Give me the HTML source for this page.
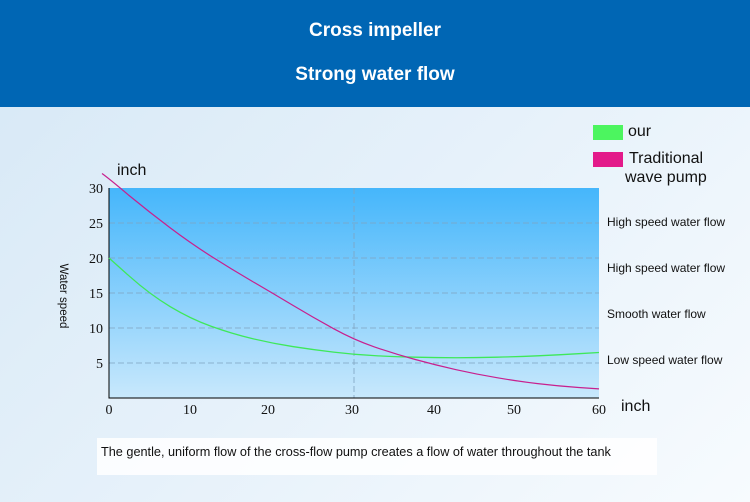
<!DOCTYPE html>
<html><head><style>
body{margin:0;width:750px;height:502px;overflow:hidden;font-family:"Liberation Sans",sans-serif;background:linear-gradient(135deg,#d6e8f6 0%,#e6f1fa 50%,#f7fbfe 100%);position:relative}
.hdr{position:absolute;left:0;top:0;width:750px;height:107px;background:#0066b4;color:#fff;text-align:center;font-size:19px;font-weight:bold}
</style></head><body>
<div class="hdr"><div style="position:absolute;top:20px;width:100%">Cross impeller</div><div style="position:absolute;top:64px;width:100%">Strong water flow</div></div>
<svg width="750" height="502" style="position:absolute;left:0;top:0">
<defs><linearGradient id="g" x1="0" y1="0" x2="0" y2="1"><stop offset="0" stop-color="#45b6fb"/><stop offset="1" stop-color="#c8e8fc"/></linearGradient></defs>
<rect x="97" y="438" width="560" height="37" fill="#fff" opacity="0.85"/>
<rect x="109" y="188" width="490" height="210" fill="url(#g)"/>
<g stroke="#7fa3c0" stroke-dasharray="6,3" stroke-width="0.8">
<line x1="109" y1="223" x2="599" y2="223"/><line x1="109" y1="258" x2="599" y2="258"/><line x1="109" y1="293" x2="599" y2="293"/><line x1="109" y1="328" x2="599" y2="328"/><line x1="109" y1="363" x2="599" y2="363"/><line x1="354" y1="188" x2="354" y2="398"/></g>
<polyline points="109,188 109,398 599,398" fill="none" stroke="#000" stroke-width="1"/>
<path d="M109,258 L129.4,276.2 Q149.8,294.4 170.25,306.65 Q190.7,318.9 211.1,326.25 Q231.5,333.6 251.9,338.5 Q272.3,343.4 292.75,346.55 Q313.2,349.7 333.6,352.15 Q354,354.6 374.4,355.65 Q394.8,356.7 415.25,357.2 Q435.7,357.75 456.1,357.75 Q476.5,357.75 496.9,357.2 Q517.3,356.7 537.75,355.8 Q558.2,354.95 578.6,353.7 L599,352.5" fill="none" stroke="#3ee85a" stroke-width="1.3"/>
<path d="M102,173.5 Q109,178.5 129.4,195.75 Q149.8,212.5 170.25,227.9 Q190.7,243.3 211.1,256.25 Q231.5,269.2 251.9,281.1 Q272.3,293 292.75,305.25 Q313.2,317.5 333.6,328.7 Q354,339.9 374.4,346.9 Q394.8,353.9 415.25,359.5 Q435.7,365.1 456.1,369.65 Q476.5,374.2 496.9,377.7 Q517.3,381.2 537.75,383.65 Q558.2,386.1 578.6,387.5 L599,388.9" fill="none" stroke="#c8208e" stroke-width="1.2"/>
<g font-family="Liberation Serif,serif" font-size="14" fill="#111">
<g text-anchor="end"><text x="103" y="193">30</text><text x="103" y="228">25</text><text x="103" y="263">20</text><text x="103" y="298">15</text><text x="103" y="333">10</text><text x="103" y="368">5</text></g>
<g text-anchor="middle"><text x="109" y="414">0</text><text x="190" y="414">10</text><text x="268" y="414">20</text><text x="352" y="414">30</text><text x="434" y="414">40</text><text x="514" y="414">50</text><text x="599" y="414">60</text></g></g>
<g font-size="16" fill="#111"><text x="117" y="175">inch</text><text x="621" y="411">inch</text>
<text x="628" y="136">our</text><text x="629" y="163">Traditional</text><text x="625" y="182">wave pump</text></g>
<rect x="593" y="125" width="30" height="15" fill="#4cf55f"/><rect x="593" y="152" width="30" height="15" fill="#e31a8a"/>
<g font-size="12" fill="#111"><text x="607" y="226">High speed water flow</text><text x="607" y="272">High speed water flow</text><text x="607" y="318">Smooth water flow</text><text x="607" y="364">Low speed water flow</text>
<text x="101" y="456" font-size="12.7">The gentle, uniform flow of the cross-flow pump creates a flow of water throughout the tank</text>
<text transform="translate(60,296) rotate(90)" text-anchor="middle" font-size="11.5">Water speed</text></g>
</svg>
</body></html>
